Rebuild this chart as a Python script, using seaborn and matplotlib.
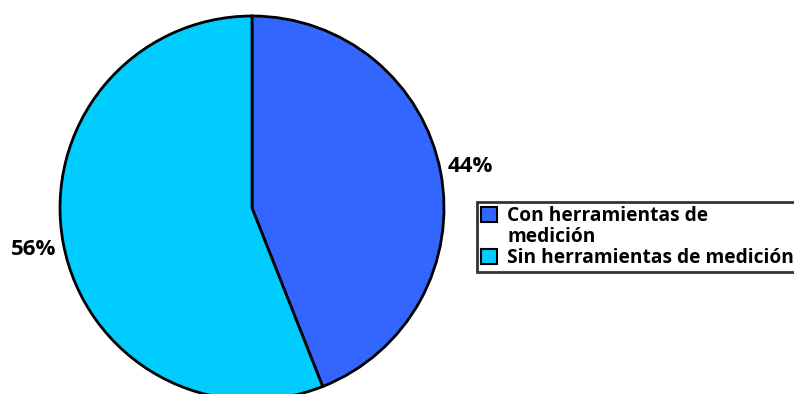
import matplotlib
matplotlib.use("Agg")
import matplotlib.pyplot as plt
from matplotlib.patches import Rectangle
import seaborn as sns

sns.set_theme(style="white")
plt.rcParams['font.family'] = ['Open Sans', 'DejaVu Sans']
plt.rcParams['text.color'] = 'black'

categories = ["Con herramientas de\nmedición", "Sin herramientas de medición"]
values = [44, 56]
colors = ["#3366FF", "#00CCFF"]

W, H = 794, 394
fig = plt.figure(figsize=(W / 100, H / 100), dpi=100)
fig.patch.set_facecolor("white")

cx, cy, r = 252, 208, 192
ax = fig.add_axes([(cx - r) / W, (H - cy - r) / H, 2 * r / W, 2 * r / H])
wedges, texts = ax.pie(
    values, colors=colors, startangle=90, counterclock=False,
    wedgeprops=dict(edgecolor="black", linewidth=2),
    labels=[f"{v}%" for v in values], labeldistance=1.16,
    textprops=dict(fontsize=16, fontweight="bold", color="black"),
)
for t in texts:
    t.set_ha("center")
    t.set_va("center")
ax.set_xlim(-1, 1)
ax.set_ylim(-1, 1)
ax.set_aspect("equal")
ax.axis("off")

# legend rows: wrapped first label, handle only on its first line
first_lines = categories[0].split("\n")
blank = Rectangle((0, 0), 1, 1, fill=False, edgecolor="none", linewidth=0)
handles = [wedges[0], blank, wedges[1]]
labels = [first_lines[0], first_lines[1], categories[1]]

leg = fig.legend(
    handles, labels, loc="upper left",
    bbox_to_anchor=(477 / W, (H - 202) / H),
    frameon=True, fancybox=False, edgecolor="black",
    prop=dict(size=13.8, weight="bold"),
    handlelength=0.8, handleheight=0.8, handletextpad=0.55,
    borderpad=0.22, labelspacing=0.05, borderaxespad=0,
)
leg.get_frame().set_linewidth(2)
for t in leg.get_texts():
    t.set_color("black")
for h in leg.legend_handles[::2]:
    h.set_linewidth(1.5)

fig.savefig("out.png", dpi=100)
